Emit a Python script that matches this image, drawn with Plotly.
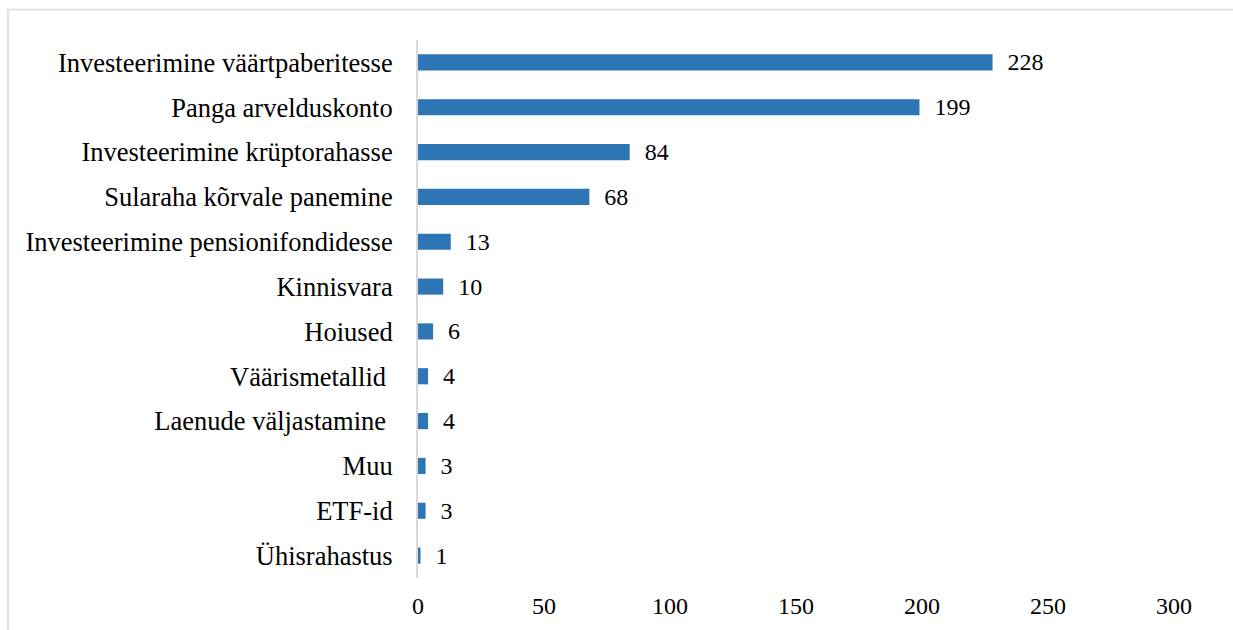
import plotly.graph_objects as go

# Savings / investment choices and number of respondents
categories = [
    "Investeerimine väärtpaberitesse",
    "Panga arvelduskonto",
    "Investeerimine krüptorahasse",
    "Sularaha kõrvale panemine",
    "Investeerimine pensionifondidesse",
    "Kinnisvara",
    "Hoiused",
    "Väärismetallid\u00a0",
    "Laenude väljastamine\u00a0",
    "Muu",
    "ETF-id",
    "Ühisrahastus",
]
counts = [228, 199, 84, 68, 13, 10, 6, 4, 4, 3, 3, 1]
x_ticks = [0, 50, 100, 150, 200, 250, 300]

FONT = "Liberation Serif, Times New Roman, serif"
BAR_COLOR = "#2E75B6"

W, H = 1233, 630
L, R, T, B = 418, 59, 39.5, 51.5
pw, ph = W - L - R, H - T - B

fig = go.Figure(
    go.Bar(
        x=counts,
        y=categories,
        orientation="h",
        width=0.36,
        marker=dict(color=BAR_COLOR, line=dict(width=0)),
        text=[f"\u00a0\u00a0{v}" for v in counts],
        textposition="outside",
        textfont=dict(family=FONT, size=24, color="black"),
        constraintext="none",
        cliponaxis=False,
    )
)

# outer chart frame
fig.add_shape(
    type="rect",
    xref="paper", yref="paper",
    x0=(8 - L) / pw, x1=(1240 - L) / pw,
    y0=(H - B - 640) / ph, y1=(H - B - 9) / ph,
    line=dict(color="#D9D9D9", width=1.5),
    fillcolor="rgba(0,0,0,0)",
    layer="below",
)

fig.update_layout(
    width=W, height=H,
    margin=dict(l=L, r=R, t=T, b=B),
    paper_bgcolor="white",
    plot_bgcolor="white",
    showlegend=False,
    font=dict(family=FONT, size=24, color="black"),
    xaxis=dict(
        range=[0, 300],
        tickvals=x_ticks,
        automargin=False,
        showgrid=False,
        zeroline=False,
        showline=False,
        ticks="outside",
        ticklen=6,
        tickcolor="rgba(0,0,0,0)",
        tickfont=dict(family=FONT, size=24, color="black"),
    ),
    yaxis=dict(
        categoryorder="array",
        categoryarray=categories[::-1],
        automargin=False,
        showgrid=False,
        zeroline=False,
        showline=True,
        linecolor="#D9D9D9",
        linewidth=2,
        ticks="outside",
        ticklen=18,
        tickcolor="rgba(0,0,0,0)",
        tickfont=dict(family=FONT, size=26.5, color="black"),
    ),
)

fig.write_html("out.html")
